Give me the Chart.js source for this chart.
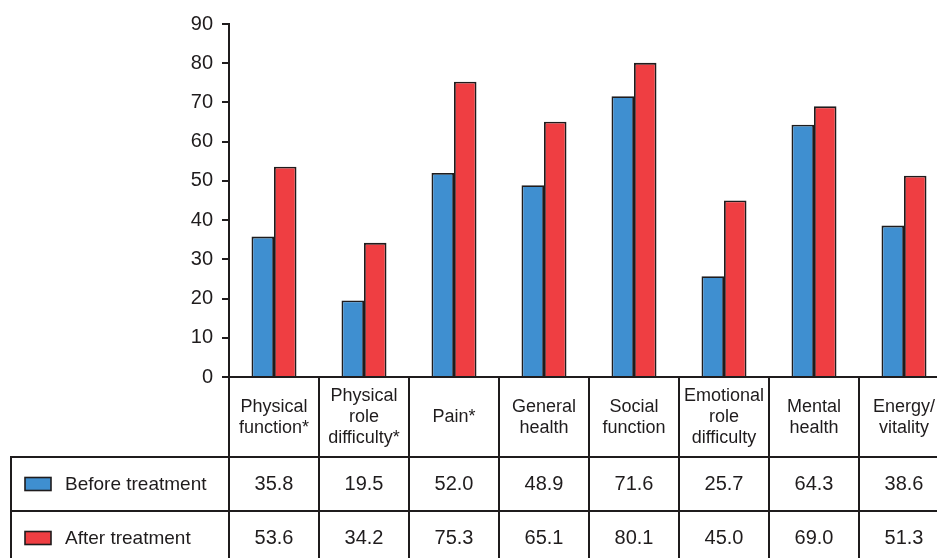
<!DOCTYPE html>
<html>
<head>
<meta charset="utf-8">
<script src="https://cdn.jsdelivr.net/npm/chart.js@4/dist/chart.umd.min.js"></script>
<style>
  html, body { margin: 0; padding: 0; background: #fff; overflow: hidden; }
  #wrap { width: 937px; height: 558px; overflow: hidden; }
  canvas { display: block; }
</style>
</head>
<body>
<div id="wrap"><canvas id="chart" width="952" height="566"></canvas></div>
<script>
  // data
  var categories = [
    ['Physical', 'function*'],
    ['Physical', 'role', 'difficulty*'],
    ['Pain*'],
    ['General', 'health'],
    ['Social', 'function'],
    ['Emotional', 'role', 'difficulty'],
    ['Mental', 'health'],
    ['Energy/', 'vitality']
  ];
  var beforeValues = [35.8, 19.5, 52.0, 48.9, 71.6, 25.7, 64.3, 38.6];
  var afterValues  = [53.6, 34.2, 75.3, 65.1, 80.1, 45.0, 69.0, 51.3];
  var yTicks = [0, 10, 20, 30, 40, 50, 60, 70, 80, 90];

  var INK = '#1f1c1d';
  var BLUE = '#3f8fd0';
  var RED = '#ef3e42';
  var FONT = '"Liberation Sans", Arial, Helvetica, sans-serif';

  // table geometry (px)
  var TABLE_LEFT = 11;
  var ROW_CAT_BOTTOM = 457;
  var ROW_BEFORE_BOTTOM = 511;
  var ROW_AFTER_BOTTOM = 565;

  var tablePlugin = {
    id: 'dataTable',
    afterDraw: function (chart) {
      var ctx = chart.ctx;
      var x = chart.scales.x;
      var area = chart.chartArea;
      var top = area.bottom;
      var half = (x.getPixelForValue(1) - x.getPixelForValue(0)) / 2;
      var series = chart.data.datasets;

      ctx.save();
      ctx.strokeStyle = INK;
      ctx.lineWidth = 2;

      // column separators
      for (var i = 0; i <= categories.length; i++) {
        var px = Math.round(x.getPixelForValue(i) - half);
        ctx.beginPath();
        ctx.moveTo(px, top);
        ctx.lineTo(px, ROW_AFTER_BOTTOM);
        ctx.stroke();
      }
      // row lines
      [ROW_CAT_BOTTOM, ROW_BEFORE_BOTTOM, ROW_AFTER_BOTTOM].forEach(function (y) {
        ctx.beginPath();
        ctx.moveTo(TABLE_LEFT - 1, y);
        ctx.lineTo(chart.width, y);
        ctx.stroke();
      });
      ctx.beginPath();
      ctx.moveTo(TABLE_LEFT, ROW_CAT_BOTTOM);
      ctx.lineTo(TABLE_LEFT, ROW_AFTER_BOTTOM);
      ctx.stroke();

      ctx.fillStyle = INK;
      ctx.textAlign = 'center';
      ctx.textBaseline = 'middle';

      // category labels
      ctx.font = '18px ' + FONT;
      var catMid = (top + ROW_CAT_BOTTOM) / 2 + 0.5;
      var lh = 21;
      categories.forEach(function (lines, i) {
        var cx = x.getPixelForValue(i);
        var y0 = catMid - (lines.length - 1) * lh / 2;
        lines.forEach(function (t, j) {
          ctx.fillText(t, cx, y0 + j * lh);
        });
      });

      // value rows + legend
      var rows = [
        { top: ROW_CAT_BOTTOM, bottom: ROW_BEFORE_BOTTOM },
        { top: ROW_BEFORE_BOTTOM, bottom: ROW_AFTER_BOTTOM }
      ];
      series.forEach(function (ds, r) {
        var mid = (rows[r].top + rows[r].bottom) / 2 + 0.5;
        ctx.font = '20px ' + FONT;
        ctx.textAlign = 'center';
        ds.data.forEach(function (v, i) {
          ctx.fillText(v.toFixed(1), x.getPixelForValue(i), mid);
        });
        // swatch
        ctx.fillStyle = ds.backgroundColor;
        ctx.fillRect(25, mid - 7, 26, 13);
        ctx.lineWidth = 1.6;
        ctx.strokeRect(25, mid - 7, 26, 13);
        ctx.fillStyle = INK;
        ctx.font = '19px ' + FONT;
        ctx.textAlign = 'left';
        ctx.fillText(ds.label, 65, mid);
      });
      ctx.restore();
    }
  };

  new Chart(document.getElementById('chart'), {
    type: 'bar',
    data: {
      labels: categories.map(function (c) { return c.join(' '); }),
      datasets: [
        {
          label: 'Before treatment',
          data: beforeValues,
          backgroundColor: BLUE,
          borderColor: INK,
          borderWidth: 1.8
        },
        {
          label: 'After treatment',
          data: afterValues,
          backgroundColor: RED,
          borderColor: INK,
          borderWidth: 1.8
        }
      ]
    },
    options: {
      responsive: false,
      animation: false,
      devicePixelRatio: 1,
      layout: { padding: { top: 24, right: 3, bottom: 0, left: 0 } },
      datasets: { bar: { categoryPercentage: 0.5, barPercentage: 1.0 } },
      plugins: {
        legend: { display: false },
        tooltip: { enabled: false }
      },
      scales: {
        x: {
          grid: { display: false },
          border: { display: true, color: INK, width: 2 },
          ticks: { display: false },
          afterFit: function (scale) { scale.height = 566 - 377; }
        },
        y: {
          min: 0,
          max: 90,
          afterBuildTicks: function (scale) {
            scale.ticks = yTicks.map(function (v) { return { value: v }; });
          },
          afterFit: function (scale) { scale.width = 229; },
          grid: {
            drawOnChartArea: false,
            drawTicks: true,
            tickLength: 7,
            color: INK,
            lineWidth: 2
          },
          border: { display: true, color: INK, width: 2 },
          ticks: {
            color: INK,
            padding: 9,
            font: { family: FONT, size: 20 }
          }
        }
      }
    },
    plugins: [tablePlugin]
  });
</script>
</body>
</html>
